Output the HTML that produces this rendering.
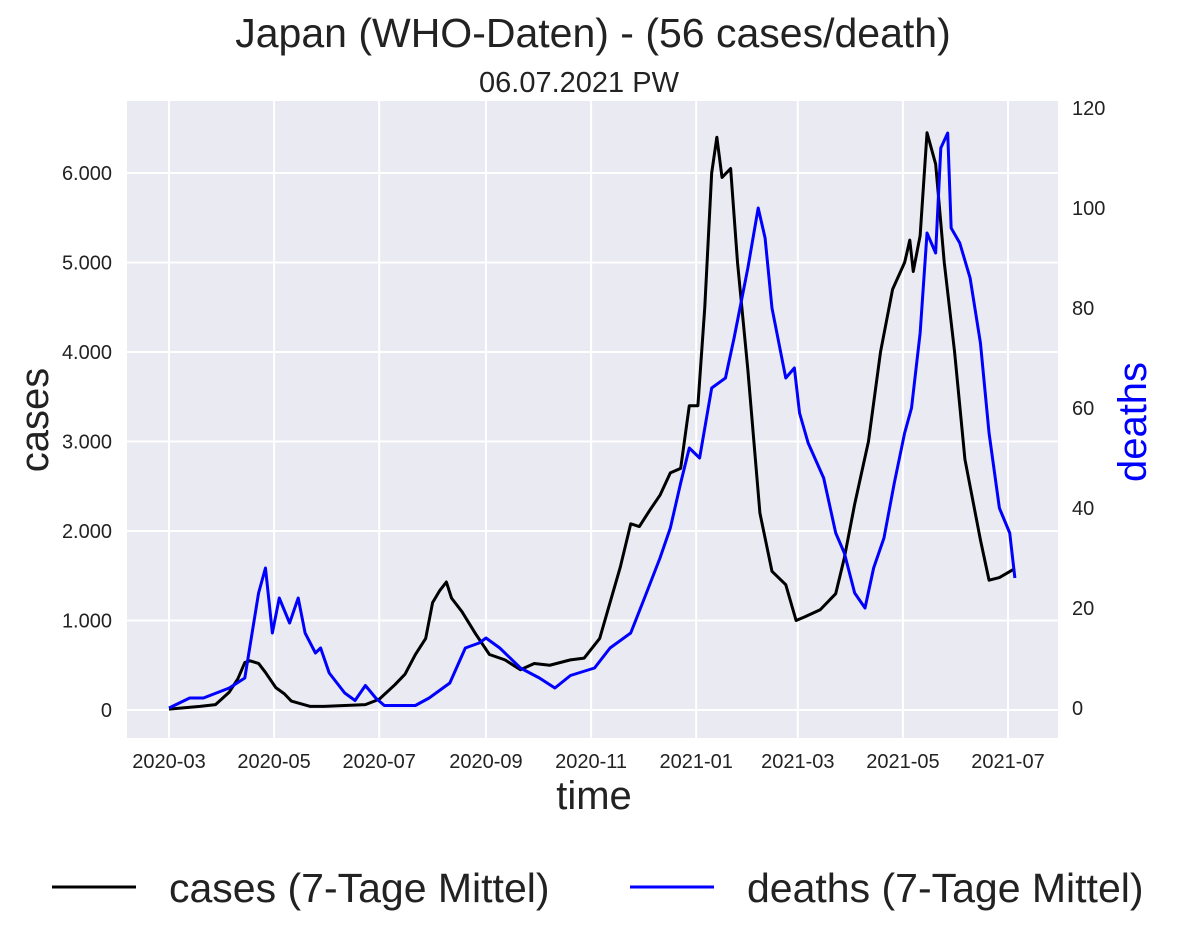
<!DOCTYPE html>
<html><head><meta charset="utf-8"><style>
body{margin:0;background:#fff;}
svg{display:block;font-family:"Liberation Sans",sans-serif;}
</style></head><body>
<svg id="chart" width="1182" height="941">
<text x="593" y="47" font-size="41" text-anchor="middle" fill="#222">Japan (WHO-Daten) - (56 cases/death)</text>
<text x="579" y="92" font-size="29" text-anchor="middle" fill="#222">06.07.2021 PW</text>
<rect x="127" y="101" width="931" height="637" fill="#eaeaf2"/>
<g id="grid"></g><g id="ticks"></g>
<g id="series"></g>
<text x="594" y="809" font-size="40" text-anchor="middle" fill="#222">time</text>
<text transform="translate(48,420) rotate(-90)" font-size="40" text-anchor="middle" fill="#222">cases</text>
<text transform="translate(1146,422) rotate(-90)" font-size="40" text-anchor="middle" fill="#0000ff">deaths</text>
<g>
<line x1="52" y1="887" x2="136" y2="887" stroke="#000" stroke-width="3"/>
<text x="169" y="902" font-size="41" fill="#222">cases (7-Tage Mittel)</text>
<line x1="630" y1="887" x2="714" y2="887" stroke="#0000ff" stroke-width="3"/>
<text x="747" y="902" font-size="41" fill="#222">deaths (7-Tage Mittel)</text>
</g>
</svg>
<script>
const xTickLabels=["2020-03","2020-05","2020-07","2020-09","2020-11","2021-01","2021-03","2021-05","2021-07"];
const xTickDays=[0,61,122,184,245,306,365,426,487];
const yTicks=[0,1000,2000,3000,4000,5000,6000];
const yTickLabels=["0","1.000","2.000","3.000","4.000","5.000","6.000"];
const y2Ticks=[0,20,40,60,80,100,120];
const caseDays=[0,18,27,35,40,44,47,52,56,62,67,71,82,90,102,114,122,131,137,143,149,153,157,161,164,170,178,186,195,204,212,221,233,241,250,256,262,268,273,279,285,291,297,302,307,311,315,318,321,326,330,336,343,350,358,364,369,378,387,392,398,406,413,420,427,430,432,436,440,445,450,456,462,471,476,482,491];
const caseVals=[10,40,60,200,350,530,550,520,420,250,180,100,40,40,50,60,120,280,400,620,800,1200,1330,1430,1250,1100,850,620,560,450,520,500,560,580,800,1200,1600,2080,2050,2230,2400,2650,2700,3400,3400,4500,6000,6400,5950,6050,5000,3800,2200,1550,1400,1000,1040,1120,1300,1700,2300,3000,4000,4700,5000,5250,4900,5300,6450,6100,5000,4000,2800,1900,1450,1480,1580];
const deathDays=[0,12,20,35,44,52,56,60,64,70,75,79,85,88,93,102,108,114,120,125,143,151,163,172,180,184,192,204,215,224,233,247,256,268,276,285,291,297,302,308,315,323,328,336,342,346,350,358,363,366,371,380,387,392,398,404,409,415,421,427,431,436,440,445,448,452,454,459,465,471,476,482,488,491];
const deathVals=[0,2,2,4,6,23,28,15,22,17,22,15,11,12,7,3,1.5,4.5,2,0.5,0.5,2,5,12,13,14,12,8,6,4,6.5,8,12,15,22,30,36,45,52,50,64,66,74,88,100,94,80,66,68,59,53,46,35,31,23,20,28,34,45,55,60,75,95,91,112,115,96,93,86,73,55,40,35,26];
const X=d=>169+d*(839/487);
const Y=v=>710-v*(537/6000);
const Y2=v=>708-v*5;
const NS="http://www.w3.org/2000/svg";
function mk(tag,attrs,parent,txt){const e=document.createElementNS(NS,tag);for(const k in attrs)e.setAttribute(k,attrs[k]);if(txt!==undefined)e.textContent=txt;document.getElementById(parent).appendChild(e);return e;}
xTickDays.forEach((d,i)=>{
 const g=mk('line',{x1:X(d),x2:X(d),y1:101,y2:738,stroke:'#fff','stroke-width':2},'grid');
 
 
 const t=mk('text',{x:X(d),y:768,'font-size':20,'text-anchor':'middle',fill:'#222'},'ticks',xTickLabels[i]);
 
 
});
yTicks.forEach((v,i)=>{
 const g=mk('line',{x1:127,x2:1058,y1:Y(v),y2:Y(v),stroke:'#fff','stroke-width':2},'grid');
 
 
 const t=mk('text',{x:112,y:Y(v)+7,'font-size':20,'text-anchor':'end',fill:'#222'},'ticks',yTickLabels[i]);
 
 
});
y2Ticks.forEach(v=>{
 const t=mk('text',{x:1072,y:Y2(v)+7,'font-size':20,fill:'#222'},'ticks',String(v));
 
 
});
const pc=mk('polyline',{points:caseDays.map((d,i)=>X(d)+','+Y(caseVals[i])).join(' '),fill:'none',stroke:'#000','stroke-width':3,'stroke-linejoin':'round'},'series');


const pd=mk('polyline',{points:deathDays.map((d,i)=>X(d)+','+Y2(deathVals[i])).join(' '),fill:'none',stroke:'#0000ff','stroke-width':3,'stroke-linejoin':'round'},'series');


</script>
</body></html>
